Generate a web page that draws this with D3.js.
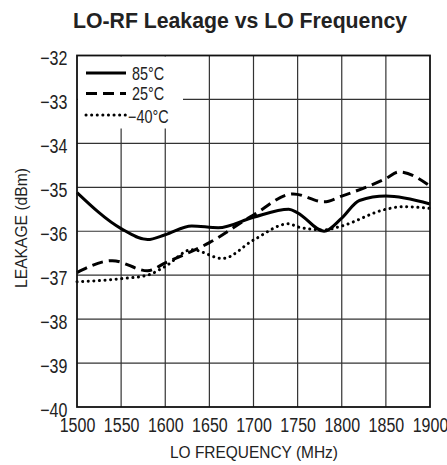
<!DOCTYPE html>
<html>
<head>
<meta charset="utf-8">
<script src="https://cdn.jsdelivr.net/npm/d3@7"></script>
<style>
  body { margin: 0; background: #fff; }
  svg text { font-family: "Liberation Sans", Arial, sans-serif; fill: #222; }
</style>
</head>
<body>
<svg width="447" height="465"></svg>
<script>
const freqTicks = [1500, 1550, 1600, 1650, 1700, 1750, 1800, 1850, 1900];
const leakTicks = [-32, -33, -34, -35, -36, -37, -38, -39, -40];

const freq85 = [1500, 1550, 1580, 1600, 1630, 1660, 1700, 1740, 1750, 1780, 1800, 1820, 1850, 1900];
const leak85 = [-35.12, -35.94, -36.19, -36.08, -35.88, -35.92, -35.68, -35.5, -35.58, -36.0, -35.7, -35.3, -35.2, -35.38];

const freq25 = [1500, 1540, 1580, 1600, 1650, 1700, 1745, 1780, 1800, 1850, 1865, 1900];
const leak25 = [-36.94, -36.67, -36.9, -36.72, -36.26, -35.63, -35.15, -35.33, -35.2, -34.8, -34.65, -34.97];

const freqM40 = [1500, 1550, 1580, 1600, 1630, 1665, 1700, 1740, 1750, 1780, 1800, 1850, 1870, 1900];
const leakM40 = [-37.15, -37.08, -37.0, -36.8, -36.42, -36.62, -36.2, -35.83, -35.9, -35.97, -35.88, -35.5, -35.44, -35.48];

const seriesNames = ["85°C", "25°C", "−40°C"];

const svg = d3.select("svg");

const attr = { left: 77, right: 430, top: 55.5, bottom: 407 };
const narrow = 0.8;

const scX = d3.scaleLinear().domain([1500, 1900]).range([attr.left, attr.right]);
const scY = d3.scaleLinear().domain([-40, -32]).range([attr.bottom, attr.top]);

const fmt = v => String(v).replace("-", "\u2212");

// title
svg.append("text")
    .attr("x", 73)
    .attr("y", 28)
    .attr("textLength", 334)
    .attr("lengthAdjust", "spacingAndGlyphs")
    .style("font-size", "22px")
    .style("font-weight", "bold")
    .text("LO-RF Leakage vs LO Frequency");

// grid
svg.append("g")
    .selectAll("line")
    .data(freqTicks.slice(1, -1))
    .enter()
    .append("line")
    .attr("x1", d => scX(d)).attr("x2", d => scX(d))
    .attr("y1", attr.top).attr("y2", attr.bottom)
    .attr("stroke", "#333").attr("stroke-width", 1.2);

svg.append("g")
    .selectAll("line")
    .data(leakTicks.slice(1, -1))
    .enter()
    .append("line")
    .attr("x1", attr.left).attr("x2", attr.right)
    .attr("y1", d => scY(d)).attr("y2", d => scY(d))
    .attr("stroke", "#333").attr("stroke-width", 1.2);

// axes labels
const xAxis = d3.axisBottom(scX).tickValues(freqTicks).tickSize(0).tickPadding(11).tickFormat(d3.format("d"));
const gx = svg.append("g")
    .attr("transform", `translate(0,${attr.bottom})`)
    .call(xAxis);
gx.select(".domain").remove();
gx.selectAll("text")
    .style("font-size", "20px")
    .attr("fill", "#222")
    .attr("transform", `scale(${narrow},1)`);

const yAxis = d3.axisLeft(scY).tickValues(leakTicks).tickSize(0).tickPadding(12).tickFormat(fmt);
const gy = svg.append("g")
    .attr("transform", `translate(${attr.left},0)`)
    .call(yAxis);
gy.select(".domain").remove();
gy.selectAll("text")
    .style("font-size", "20px")
    .attr("fill", "#222")
    .attr("dy", "0.45em")
    .attr("transform", `scale(${narrow},1)`);

svg.append("text")
    .attr("x", 170)
    .attr("y", 458)
    .attr("textLength", 168)
    .attr("lengthAdjust", "spacingAndGlyphs")
    .style("font-size", "17px")
    .text("LO FREQUENCY (MHz)");

svg.append("text")
    .attr("transform", "translate(27,288) rotate(-90)")
    .attr("textLength", 120)
    .attr("lengthAdjust", "spacingAndGlyphs")
    .style("font-size", "17px")
    .text("LEAKAGE (dBm)");

// curves
const line = d3.line()
    .x(d => scX(d[0]))
    .y(d => scY(d[1]))
    .curve(d3.curveMonotoneX);

const styles = [
    { dash: null, cap: "butt" },
    { dash: "11,6", cap: "butt" },
    { dash: "0.1,5.5", cap: "round" }
];

const seriesData = [
    d3.zip(freq85, leak85),
    d3.zip(freq25, leak25),
    d3.zip(freqM40, leakM40)
];

seriesData.forEach((data, i) => {
    svg.append("path")
        .datum(data)
        .attr("fill", "none")
        .attr("stroke", "#000")
        .attr("stroke-width", 3)
        .attr("stroke-linecap", styles[i].cap)
        .attr("stroke-dasharray", styles[i].dash)
        .attr("d", line);
});

// legend (white box covers grid)
svg.append("rect")
    .attr("x", attr.left + 1)
    .attr("y", attr.top + 1)
    .attr("width", 105)
    .attr("height", 72)
    .attr("fill", "#fff");

const legY = [73, 93.5, 115];
const legBase = [79.5, 100, 122.5];
seriesNames.forEach((name, i) => {
    svg.append("line")
        .attr("x1", 86).attr("x2", 126)
        .attr("y1", legY[i]).attr("y2", legY[i])
        .attr("stroke", "#000")
        .attr("stroke-width", 3)
        .attr("stroke-linecap", styles[i].cap)
        .attr("stroke-dasharray", styles[i].dash);
    svg.append("text")
        .attr("transform", `translate(${i === 2 ? 128 : 132},${legBase[i]}) scale(${narrow},1)`)
        .style("font-size", "18px")
        .text(name);
});

// frame
svg.append("rect")
    .attr("x", attr.left).attr("y", attr.top)
    .attr("width", attr.right - attr.left)
    .attr("height", attr.bottom - attr.top)
    .attr("fill", "none")
    .attr("stroke", "#111")
    .attr("stroke-width", 1.8);
</script>
</body>
</html>
